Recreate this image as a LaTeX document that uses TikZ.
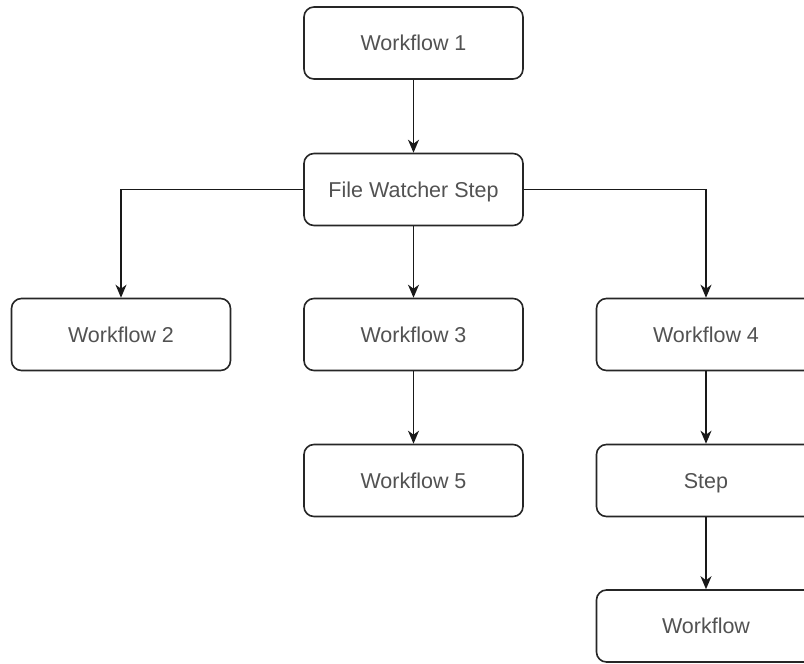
\documentclass[tikz,border=0pt]{standalone}
\usepackage{fontspec}
\setmainfont{Liberation Sans}
\usetikzlibrary{arrows.meta}
\begin{document}
\begin{tikzpicture}[x=1pt,y=-1pt,
  box/.style={draw=black!85, line width=1.6pt, rounded corners=10pt, fill=white,
    minimum width=219pt, minimum height=72pt, inner sep=0pt,
    text height=15.6pt, text depth=0pt,
    font=\fontsize{21.5}{26}\selectfont, text=black!68},
  link/.style={draw=black!90, line width=1.6pt, -{Stealth[length=13pt,width=11pt,inset=4pt]}}]
  \useasboundingbox (0,0) rectangle (804,664);
  \node[box] (w1)   at (413.5,43)    {Workflow 1};
  \node[box] (fws)  at (413.5,189.5) {File Watcher Step};
  \node[box] (w2)   at (121,334.5)   {Workflow 2};
  \node[box] (w3)   at (413.5,334.5) {Workflow 3};
  \node[box] (w4)   at (706,334.5)   {Workflow 4};
  \node[box] (w5)   at (413.5,480.5) {Workflow 5};
  \node[box] (step) at (706,480.5)   {Step};
  \node[box] (wf)   at (706,626)     {Workflow};
  \draw[link] (w1) -- (fws);
  \draw[link] (fws.west) -| (w2.north);
  \draw[link] (fws) -- (w3);
  \draw[link] (fws.east) -| (w4.north);
  \draw[link] (w3) -- (w5);
  \draw[link] (w4) -- (step);
  \draw[link] (step) -- (wf);
\end{tikzpicture}
\end{document}
